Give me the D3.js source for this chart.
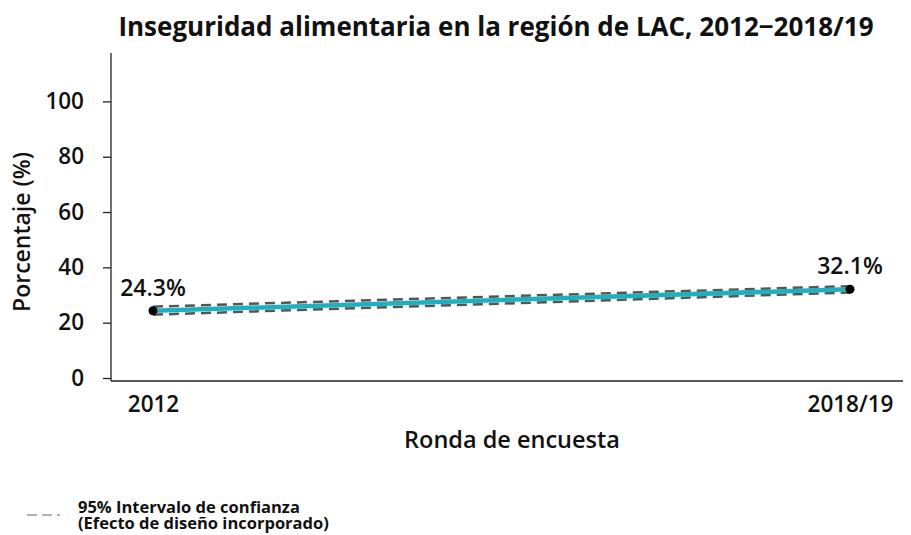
<!DOCTYPE html>
<html>
<head>
<meta charset="utf-8">
<script src="https://cdn.jsdelivr.net/npm/d3@7"></script>
<style>
  body { margin: 0; background: #fff; }
  svg text { font-family: "Open Sans", "Noto Sans", sans-serif; fill: #111; }
  .ticksLabel text { font-size: 22.5px; font-weight: 600; }
  .ticksLabel path, .ticksLabel line { stroke: #222; stroke-width: 1.3; }
</style>
</head>
<body>
<div class="chart_container"></div>
<script>
var width = 911
var height = 535

var rounds = ["2012", "2018/19"]
var values = [24.3, 32.1]
var lower = [22.9, 30.9]
var upper = [25.8, 33.2]
var yTicks = [0, 20, 40, 60, 80, 100]

var data = rounds.map(function (r, i) {
  return { round: r, value: values[i], lo: lower[i], hi: upper[i] };
});

var svg = d3.select(".chart_container").append("svg")
            .attr("width", width)
            .attr("height", height);

var scaleY = d3.scaleLinear()
               .domain([0, 117.5])
               .range([378, 53]);

var scaleX = d3.scalePoint()
               .domain(rounds)
               .range([153, 850]);

// axes
svg.append("g")
  .attr("class", "ticksLabel")
  .attr("transform", "translate(111,0)")
  .call(d3.axisLeft(scaleY).tickValues(yTicks).tickSizeInner(8).tickSizeOuter(0).tickPadding(19))
  .call(function (g) { g.select(".domain").attr("d", "M0,53V381"); });

svg.append("g")
  .attr("class", "ticksLabel")
  .attr("transform", "translate(0,381)")
  .call(d3.axisBottom(scaleX).tickSize(0).tickPadding(15))
  .call(function (g) { g.select(".domain").attr("d", "M111,0H903"); });

// confidence interval lines
var ciUpper = d3.line().x(function (d) { return scaleX(d.round); }).y(function (d) { return scaleY(d.hi); });
var ciLower = d3.line().x(function (d) { return scaleX(d.round); }).y(function (d) { return scaleY(d.lo); });

[ciUpper, ciLower].forEach(function (ln) {
  svg.append("path")
    .datum(data)
    .attr("d", ln)
    .attr("fill", "none")
    .attr("stroke", "#555")
    .attr("stroke-width", 2.5)
    .attr("stroke-dasharray", "10,6");
});

var line = d3.line()
  .x(function (d) { return scaleX(d.round); })
  .y(function (d) { return scaleY(d.value); });

svg.append("path")
  .datum(data)
  .attr("d", line)
  .attr("fill", "none")
  .attr("stroke", "#1fb0bf")
  .attr("stroke-width", 4.5);

svg.selectAll("circle.pt")
  .data(data)
  .enter()
  .append("circle")
  .attr("class", "pt")
  .attr("cx", function (d) { return scaleX(d.round); })
  .attr("cy", function (d) { return scaleY(d.value); })
  .attr("r", 4.5)
  .style("fill", "#000");

svg.selectAll("text.val")
  .data(data)
  .enter()
  .append("text")
  .attr("class", "val")
  .attr("x", function (d) { return scaleX(d.round); })
  .attr("y", function (d) { return scaleY(d.value) - 15; })
  .style("text-anchor", "middle")
  .style("font-size", "23px")
  .style("font-weight", 600)
  .text(function (d) { return d.value.toFixed(1) + "%"; });

// titles
svg.append("text")
  .attr("x", 496)
  .attr("y", 36)
  .style("text-anchor", "middle")
  .style("font-size", "26px")
  .style("font-weight", 700)
  .text("Inseguridad alimentaria en la región de LAC, 2012\u22122018/19");

svg.append("text")
  .attr("x", 512)
  .attr("y", 448)
  .style("text-anchor", "middle")
  .style("font-size", "23.5px")
  .style("font-weight", 600)
  .text("Ronda de encuesta");

svg.append("text")
  .attr("transform", "translate(30,232) rotate(-90)")
  .style("text-anchor", "middle")
  .style("font-size", "23px")
  .style("font-weight", 600)
  .text("Porcentaje (%)");

// legend
svg.append("line")
  .attr("x1", 27).attr("x2", 60)
  .attr("y1", 515).attr("y2", 515)
  .attr("stroke", "#666")
  .attr("stroke-width", 1.2)
  .attr("stroke-dasharray", "10,5");

svg.append("text")
  .attr("x", 78).attr("y", 513)
  .style("font-size", "16.5px")
  .style("font-weight", 700)
  .text("95% Intervalo de confianza");

svg.append("text")
  .attr("x", 78).attr("y", 529)
  .style("font-size", "16.5px")
  .style("font-weight", 700)
  .text("(Efecto de diseño incorporado)");
</script>
</body>
</html>
